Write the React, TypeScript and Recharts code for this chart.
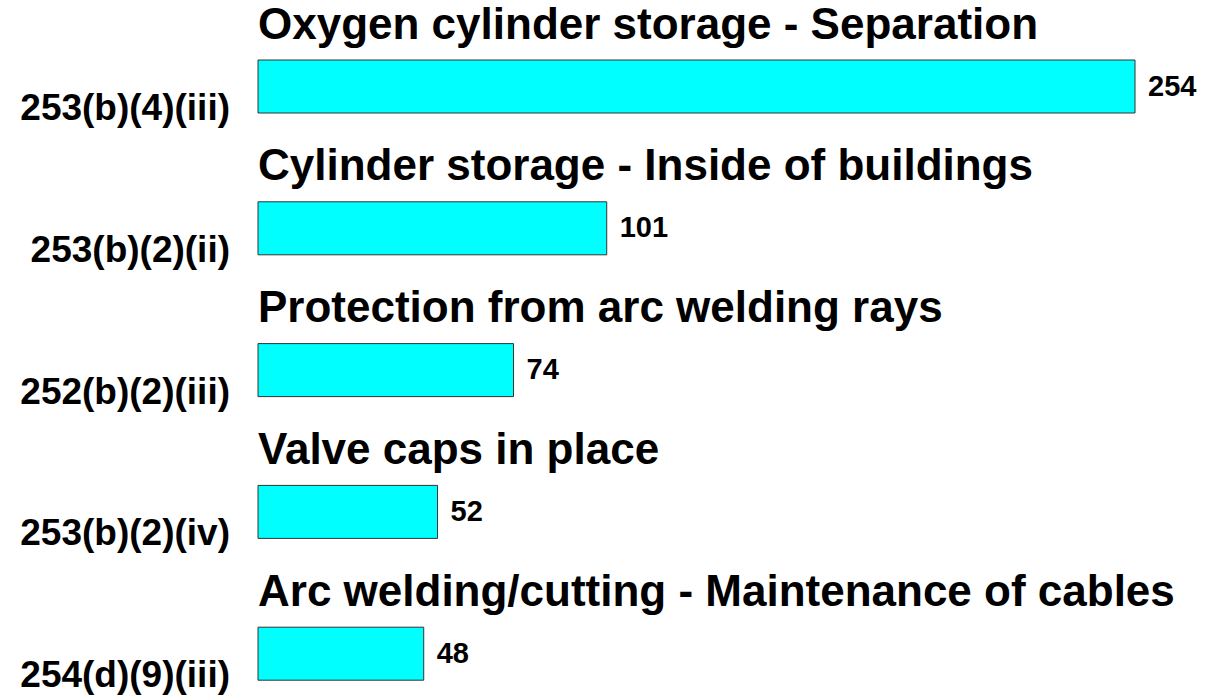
import { BarChart, Bar, XAxis, YAxis, LabelList } from 'recharts';

const codes = ['253(b)(4)(iii)', '253(b)(2)(ii)', '252(b)(2)(iii)', '253(b)(2)(iv)', '254(d)(9)(iii)'];
const titles = [
    'Oxygen cylinder storage - Separation',
    'Cylinder storage - Inside of buildings',
    'Protection from arc welding rays',
    'Valve caps in place',
    'Arc welding/cutting - Maintenance of cables',
];
const counts = [254, 101, 74, 52, 48];

const data = codes.map((code, i) => ({ code, title: titles[i], count: counts[i] }));

const FONT = '"Liberation Sans", Arial, Helvetica, sans-serif';

function CodeTick(props: any) {
    const { y, payload } = props;
    return (
        <text x={230} y={y + 33} textAnchor="end" fontFamily={FONT} fontWeight="bold" fontSize={37} fill="#000">
            {payload.value}
        </text>
    );
}

function TitleLabel(props: any) {
    const { x, y, height, value } = props;
    return (
        <text x={x} y={y + height / 2 - 48} fontFamily={FONT} fontWeight="bold" fontSize={44} fill="#000">
            {value}
        </text>
    );
}

function CountLabel(props: any) {
    const { x, y, width, height, value } = props;
    return (
        <text x={x + width + 13} y={y + height / 2 + 9} fontFamily={FONT} fontWeight="bold" fontSize={29} fill="#000">
            {value}
        </text>
    );
}

export default function App() {
    return (
        <div style={{ position: 'fixed', left: 0, top: 0, width: 1206, height: 700, overflow: 'hidden', background: '#fff' }}>
            <BarChart
                width={1206}
                height={725}
                data={data}
                layout="vertical"
                margin={{ top: 16, right: 71, bottom: 0, left: 0 }}
            >
                <XAxis type="number" domain={[0, 254]} hide />
                <YAxis
                    type="category"
                    dataKey="code"
                    width={258}
                    axisLine={false}
                    tickLine={false}
                    tick={<CodeTick />}
                    interval={0}
                />
                <Bar dataKey="count" fill="#00FFFF" stroke="#333333" strokeWidth={1} barSize={53} isAnimationActive={false}>
                    <LabelList dataKey="title" content={<TitleLabel />} />
                    <LabelList dataKey="count" content={<CountLabel />} />
                </Bar>
            </BarChart>
        </div>
    );
}
